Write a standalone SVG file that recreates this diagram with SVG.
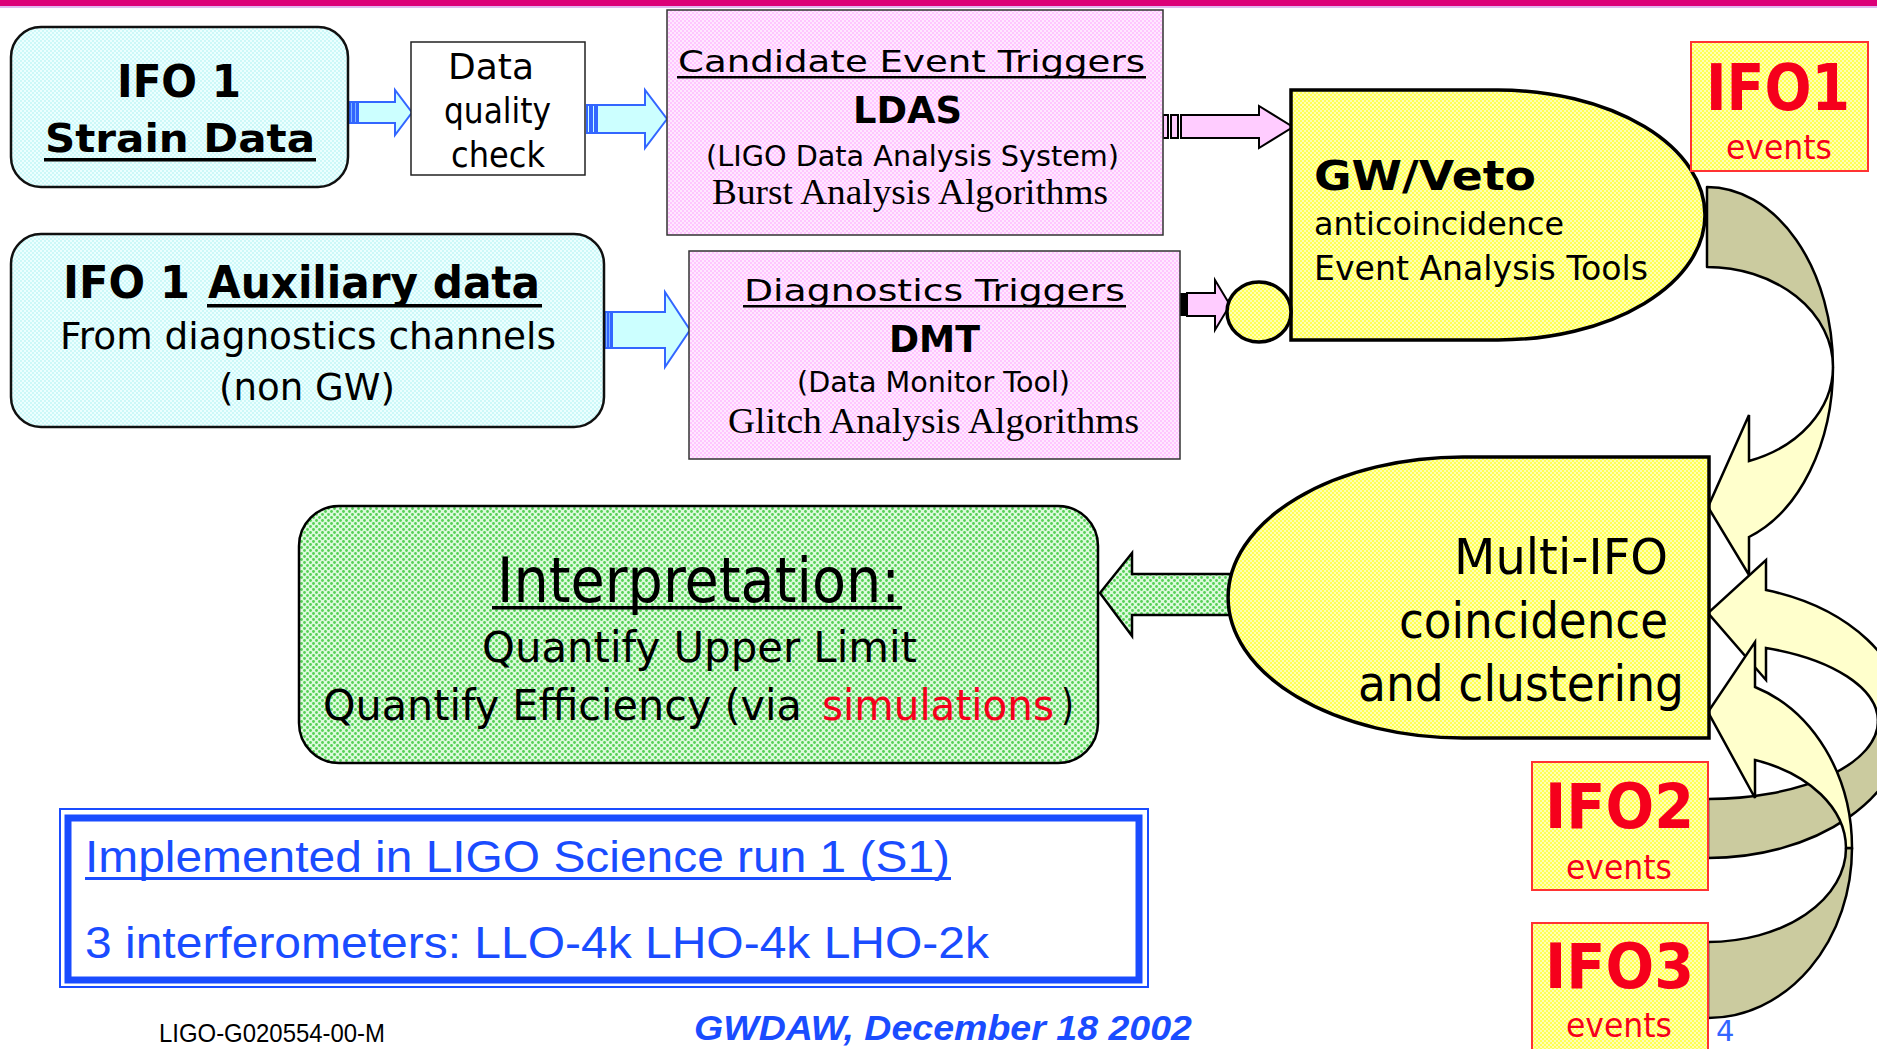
<svg xmlns="http://www.w3.org/2000/svg" width="1877" height="1049" viewBox="0 0 1877 1049">
<defs>
<pattern id="pY" width="4" height="4" patternUnits="userSpaceOnUse"><rect width="4" height="4" fill="#ffffb4"/><rect width="2" height="2" fill="#ffff55"/><rect x="2" y="2" width="2" height="2" fill="#ffff55"/></pattern>
<pattern id="pP" width="4" height="4" patternUnits="userSpaceOnUse"><rect width="4" height="4" fill="#ffe8ff"/><rect width="2" height="2" fill="#ffc6ff"/><rect x="2" y="2" width="2" height="2" fill="#ffc6ff"/></pattern>
<pattern id="pC" width="4" height="4" patternUnits="userSpaceOnUse"><rect width="4" height="4" fill="#ecffff"/><rect width="2" height="2" fill="#cdf8f8"/><rect x="2" y="2" width="2" height="2" fill="#cdf8f8"/></pattern>
<pattern id="pG" width="6" height="6" patternUnits="userSpaceOnUse"><rect width="6" height="6" fill="#ddfadd"/><circle cx="1.5" cy="1.5" r="1.4" fill="#55d055"/><circle cx="4.5" cy="4.5" r="1.4" fill="#55d055"/></pattern>
</defs>
<style>
.s{font-family:"DejaVu Sans","Liberation Sans",sans-serif;fill:#000}
.b{font-weight:bold}
.sf{font-family:"Liberation Serif",serif;fill:#000}
.red{fill:#f5001c}
.bl{font-family:"Liberation Sans",Arial,sans-serif;fill:#1a4cff}
.bA{fill:#ccffff;stroke:#3366ff;stroke-width:2}
.pA{fill:#ffccff;stroke:#000;stroke-width:2}
.kh{fill:#cbcb9f;stroke:#000;stroke-width:2.5;stroke-linejoin:round}
.ly{fill:#ffffcc;stroke:#000;stroke-width:2.5;stroke-linejoin:miter}
.ev{fill:url(#pY);stroke:#ff3333;stroke-width:2}
</style>
<rect x="0" y="0" width="1877" height="6" fill="#dc0078"/>
<rect x="0" y="6" width="1877" height="2" fill="#e0b8f0"/>

<g id="connectors">
  <!-- Strain -> DQ -->
  <rect x="350" y="102" width="2.5" height="21" class="bA" stroke-width="1"/>
  <rect x="354" y="102" width="2.5" height="21" class="bA" stroke-width="1"/>
  <path class="bA" d="M358,102 L395,102 L395,90 L412,112.5 L395,135 L395,123 L358,123 Z"/>
  <!-- DQ -> Candidate -->
  <rect x="587" y="105" width="3" height="28" class="bA" stroke-width="1"/>
  <rect x="592" y="105" width="3" height="28" class="bA" stroke-width="1"/>
  <path class="bA" d="M597,105 L645,105 L645,90 L667,119 L645,148 L645,133 L597,133 Z"/>
  <!-- Aux -> Diagnostics -->
  <rect x="605" y="312" width="2.5" height="36" class="bA" stroke-width="1"/>
  <rect x="608.5" y="312" width="2.5" height="36" class="bA" stroke-width="1"/>
  <path class="bA" d="M612,312 L665,312 L665,292 L690,330 L665,367 L665,348 L612,348 Z"/>
  <!-- Candidate -> GW/Veto -->
  <rect x="1163" y="115" width="5" height="23" class="pA" stroke-width="1.5"/>
  <rect x="1171" y="115" width="7" height="23" class="pA" stroke-width="1.5"/>
  <path class="pA" d="M1181,115 L1259,115 L1259,106 L1293,127 L1259,148 L1259,138 L1181,138 Z"/>
  <!-- Diagnostics -> circle -->
  <rect x="1179" y="293" width="7" height="23" fill="#000"/>
  <path class="pA" d="M1187,293 L1215,293 L1215,280 L1230,305 L1215,330 L1215,316 L1187,316 Z"/>
  <!-- Multi-IFO -> Interpretation -->
  <path fill="url(#pG)" stroke="#000" stroke-width="2.5" d="M1240,574 L1132,574 L1132,553 L1100,593 L1132,636 L1132,615 L1240,615"/>
  <!-- IFO1 curved arrow A -->
  <path class="kh" d="M1707,187 A126,180 0 0 1 1833,367 A126,100 0 0 0 1707,267 Z"/>
  <path class="ly" d="M1833,367 A126,180 0 0 1 1749,537 L1749,575 L1708,507 L1749,415 L1749,461 A126,100 0 0 0 1833,367 Z"/>
  <!-- IFO2 curved arrow B -->
  <path class="kh" d="M1708,858 A198,137 0 0 0 1906,721 L1878,721 A170,78 0 0 1 1708,799 Z"/>
  <path class="ly" d="M1906,721 A198,137 0 0 0 1766,590 L1766,560 L1708,613 L1766,680 L1766,648 A170,78 0 0 1 1878,721 Z"/>
  <!-- IFO3 curved arrow C -->
  <path class="kh" d="M1708,1018 A144,170 0 0 0 1852,848 L1846,848 A138,94 0 0 1 1708,942 Z"/>
  <path class="ly" d="M1852,848 A144,170 0 0 0 1755,687 L1755,642 L1708,712 L1755,798 L1755,760 A138,94 0 0 1 1846,848 Z"/>
</g>

<g id="strain">
  <rect x="11" y="27" width="337" height="160" rx="30" fill="url(#pC)" stroke="#111" stroke-width="2.5"/>
  <text class="s b" x="117" y="97" font-size="45" textLength="124" lengthAdjust="spacingAndGlyphs">IFO 1</text>
  <text class="s b" x="45" y="152" font-size="39" textLength="270" lengthAdjust="spacingAndGlyphs">Strain Data</text>
  <rect x="44" y="158" width="272" height="3.5" fill="#000"/>
</g>

<g id="dq">
  <rect x="411" y="42" width="174" height="133" fill="#fff" stroke="#222" stroke-width="1.5"/>
  <text class="s" x="448" y="79" font-size="36" textLength="86" lengthAdjust="spacingAndGlyphs">Data</text>
  <text class="s" x="444" y="123" font-size="36" textLength="107" lengthAdjust="spacingAndGlyphs">quality</text>
  <text class="s" x="451" y="167" font-size="36" textLength="94" lengthAdjust="spacingAndGlyphs">check</text>
</g>

<g id="candidate">
  <rect x="667" y="10" width="496" height="225" fill="url(#pP)" stroke="#333" stroke-width="1.5"/>
  <text class="s" x="678" y="72" font-size="31" textLength="467" lengthAdjust="spacingAndGlyphs">Candidate Event Triggers</text>
  <rect x="677" y="76" width="469" height="2.5" fill="#000"/>
  <text class="s b" x="853" y="123" font-size="37" textLength="109" lengthAdjust="spacingAndGlyphs">LDAS</text>
  <text class="s" x="706" y="166" font-size="28" textLength="413" lengthAdjust="spacingAndGlyphs">(LIGO Data Analysis System)</text>
  <text class="sf" x="712" y="204" font-size="36" textLength="396" lengthAdjust="spacingAndGlyphs">Burst Analysis Algorithms</text>
</g>

<g id="aux">
  <rect x="11" y="234" width="593" height="193" rx="30" fill="url(#pC)" stroke="#111" stroke-width="2.5"/>
  <text class="s b" x="63" y="298" font-size="44" textLength="127" lengthAdjust="spacingAndGlyphs">IFO 1</text>
  <text class="s b" x="208" y="298" font-size="44" textLength="332" lengthAdjust="spacingAndGlyphs">Auxiliary data</text>
  <rect x="207" y="304" width="335" height="3.5" fill="#000"/>
  <text class="s" x="60" y="349" font-size="38" textLength="496" lengthAdjust="spacingAndGlyphs">From diagnostics channels</text>
  <text class="s" x="219" y="400" font-size="38" textLength="176" lengthAdjust="spacingAndGlyphs">(non GW)</text>
</g>

<g id="diagnostics">
  <rect x="689" y="251" width="491" height="208" fill="url(#pP)" stroke="#333" stroke-width="1.5"/>
  <text class="s" x="744" y="301" font-size="31" textLength="381" lengthAdjust="spacingAndGlyphs">Diagnostics Triggers</text>
  <rect x="743" y="305" width="383" height="2.5" fill="#000"/>
  <text class="s b" x="889" y="352" font-size="37" textLength="91" lengthAdjust="spacingAndGlyphs">DMT</text>
  <text class="s" x="797" y="392" font-size="28" textLength="273" lengthAdjust="spacingAndGlyphs">(Data Monitor Tool)</text>
  <text class="sf" x="728" y="433" font-size="36" textLength="411" lengthAdjust="spacingAndGlyphs">Glitch Analysis Algorithms</text>
</g>

<g id="gwveto">
  <path d="M1291,90 L1498,90 A207,125 0 0 1 1498,340 L1291,340 Z" fill="url(#pY)" stroke="#000" stroke-width="3.5"/>
  <text class="s b" x="1314" y="190" font-size="41" textLength="222" lengthAdjust="spacingAndGlyphs">GW/Veto</text>
  <text class="s" x="1314" y="235" font-size="32" textLength="250" lengthAdjust="spacingAndGlyphs">anticoincidence</text>
  <text class="s" x="1314" y="280" font-size="33" textLength="334" lengthAdjust="spacingAndGlyphs">Event Analysis Tools</text>
</g>

<g id="veto-input">
  <ellipse cx="1259" cy="312" rx="32" ry="30" fill="url(#pY)" stroke="#000" stroke-width="3.5"/>
</g>

<g id="ifo1events">
  <rect x="1691" y="42" width="177" height="129" class="ev"/>
  <text class="s b red" x="1706" y="110" font-size="64" textLength="144" lengthAdjust="spacingAndGlyphs">IFO1</text>
  <text class="s red" x="1726" y="159" font-size="34" textLength="106" lengthAdjust="spacingAndGlyphs">events</text>
</g>

<g id="multiifo">
  <path d="M1709,457 L1463,457 A235,140.5 0 0 0 1463,738 L1709,738 Z" fill="url(#pY)" stroke="#000" stroke-width="3.5"/>
  <text class="s" x="1454" y="574" font-size="50" textLength="214" lengthAdjust="spacingAndGlyphs">Multi-IFO</text>
  <text class="s" x="1399" y="638" font-size="50" textLength="269" lengthAdjust="spacingAndGlyphs">coincidence</text>
  <text class="s" x="1358" y="701" font-size="50" textLength="326" lengthAdjust="spacingAndGlyphs">and clustering</text>
</g>

<g id="ifo2events">
  <rect x="1532" y="762" width="176" height="128" class="ev"/>
  <text class="s b red" x="1545" y="828" font-size="62" textLength="149" lengthAdjust="spacingAndGlyphs">IFO2</text>
  <text class="s red" x="1566" y="879" font-size="34" textLength="106" lengthAdjust="spacingAndGlyphs">events</text>
</g>

<g id="ifo3events">
  <rect x="1532" y="923" width="176" height="140" class="ev"/>
  <text class="s b red" x="1545" y="988" font-size="62" textLength="149" lengthAdjust="spacingAndGlyphs">IFO3</text>
  <text class="s red" x="1566" y="1037" font-size="34" textLength="106" lengthAdjust="spacingAndGlyphs">events</text>
</g>

<g id="interpretation">
  <rect x="299" y="506" width="799" height="257" rx="40" fill="url(#pG)" stroke="#000" stroke-width="2.5"/>
  <text class="s" x="497" y="602" font-size="62" textLength="403" lengthAdjust="spacingAndGlyphs">Interpretation:</text>
  <rect x="492" y="606" width="410" height="3.5" fill="#000"/>
  <text class="s" x="482" y="662" font-size="42" textLength="435" lengthAdjust="spacingAndGlyphs">Quantify Upper Limit</text>
  <text class="s" y="720" font-size="42"><tspan x="323" textLength="492" lengthAdjust="spacingAndGlyphs">Quantify Efficiency (via </tspan><tspan x="822" fill="#f5001c" textLength="232" lengthAdjust="spacingAndGlyphs">simulations</tspan><tspan x="1061" textLength="13" lengthAdjust="spacingAndGlyphs">)</tspan></text>
</g>

<g id="note">
  <rect x="60" y="809" width="1088" height="178" fill="none" stroke="#1a4cff" stroke-width="2"/>
  <rect x="68" y="818" width="1071" height="162" fill="none" stroke="#1a4cff" stroke-width="7"/>
  <text class="bl" x="85" y="872" font-size="45" textLength="865" lengthAdjust="spacingAndGlyphs">Implemented in LIGO Science run 1 (S1)</text>
  <rect x="85" y="877" width="866" height="3" fill="#1a4cff"/>
  <text class="bl" x="85" y="958" font-size="45" textLength="904" lengthAdjust="spacingAndGlyphs">3 interferometers: LLO-4k LHO-4k LHO-2k</text>
</g>

<g id="footer">
  <text x="159" y="1042" font-family="Liberation Sans, Arial, sans-serif" font-size="25" fill="#000" textLength="226" lengthAdjust="spacingAndGlyphs">LIGO-G020554-00-M</text>
  <text class="bl" x="694" y="1040" font-size="35" font-weight="bold" font-style="italic" fill="#2050ff" textLength="498" lengthAdjust="spacingAndGlyphs">GWDAW, December 18 2002</text>
  <text x="1716" y="1041" font-family="DejaVu Sans, sans-serif" font-size="29" fill="#3366ff">4</text>
</g>
</svg>
